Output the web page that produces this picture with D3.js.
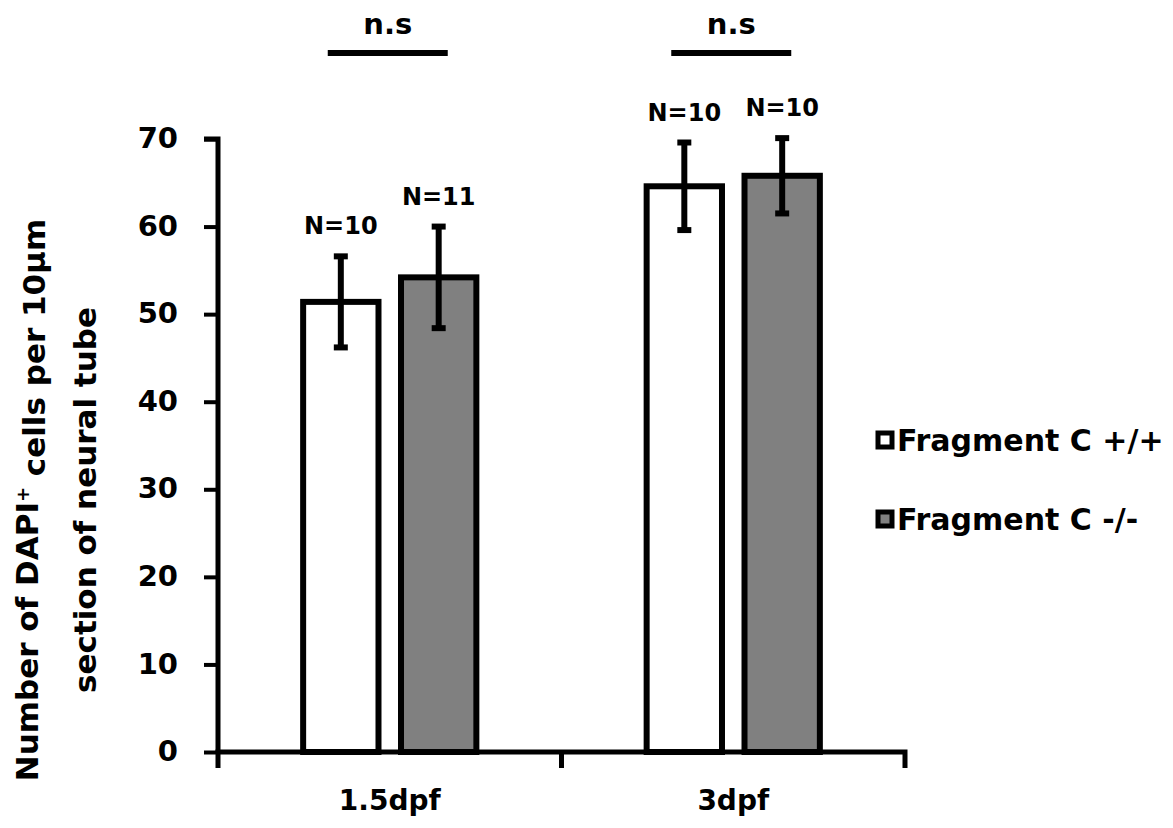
<!DOCTYPE html>
<html>
<head>
<meta charset="utf-8">
<script src="https://cdn.jsdelivr.net/npm/d3@7"></script>
<style>
  body { margin: 0; background: #fff; }
  text { font-family: "DejaVu Sans", sans-serif; font-weight: bold; fill: #000; }
</style>
</head>
<body>
<div id="chart"></div>
<script>
// data
const stages = ["1.5dpf", "3dpf"];
const genotypes = ["Fragment C +/+", "Fragment C -/-"];
const means = [[51.4, 54.2], [64.6, 65.8]];
const errors = [[5.2, 5.8], [5.0, 4.3]];
const nLabels = [["N=10", "N=11"], ["N=10", "N=10"]];
const sigLabels = ["n.s", "n.s"];
const yTicks = [0, 10, 20, 30, 40, 50, 60, 70];
const fills = ["#ffffff", "#808080"];

const width = 1173, height = 828;

const svg = d3.select("#chart").append("svg")
    .attr("width", width)
    .attr("height", height);

// scales
let x0 = d3.scaleBand()
    .domain(stages)
    .range([218, 905]);

let x1 = d3.scaleBand()
    .domain(genotypes)
    .range([0, x0.bandwidth()])
    .paddingInner(0.23)
    .paddingOuter(0.87);

let y = d3.scaleLinear()
    .domain([0, 70])
    .range([752, 139]);

// bars
let groups = svg.selectAll(".stage")
    .data(stages)
    .enter()
    .append("g")
    .attr("class", "stage")
    .attr("transform", d => `translate(${x0(d)},0)`);

groups.each(function(stage, i) {
    let g = d3.select(this);
    genotypes.forEach((gt, j) => {
        let m = means[i][j], e = errors[i][j];
        let cx = x1(gt) + x1.bandwidth() / 2;
        g.append("rect")
            .attr("x", x1(gt))
            .attr("y", y(m))
            .attr("width", x1.bandwidth())
            .attr("height", y(0) - y(m))
            .attr("fill", fills[j])
            .attr("stroke", "#000")
            .attr("stroke-width", 6);
        // error bar
        g.append("line")
            .attr("x1", cx).attr("x2", cx)
            .attr("y1", y(m + e)).attr("y2", y(m - e))
            .attr("stroke", "#000").attr("stroke-width", 6);
        [m + e, m - e].forEach(v => {
            g.append("line")
                .attr("x1", cx - 7).attr("x2", cx + 7)
                .attr("y1", y(v)).attr("y2", y(v))
                .attr("stroke", "#000").attr("stroke-width", 6);
        });
        g.append("text")
            .attr("x", cx)
            .attr("y", y(m + e) - 22)
            .attr("text-anchor", "middle")
            .style("font-size", "24px")
            .text(nLabels[i][j]);
    });

    // n.s bracket
    let mid = x0.bandwidth() / 2 - 2;
    g.append("line")
        .attr("x1", mid - 60).attr("x2", mid + 60)
        .attr("y1", 53).attr("y2", 53)
        .attr("stroke", "#000").attr("stroke-width", 6);
    g.append("text")
        .attr("x", mid)
        .attr("y", 34)
        .attr("text-anchor", "middle")
        .style("font-size", "29px")
        .text(sigLabels[i]);
});

// y axis
let yAxis = svg.append("g")
    .attr("transform", "translate(218,0)")
    .call(d3.axisLeft(y).tickValues(yTicks).tickSize(14).tickPadding(26));
yAxis.select(".domain").attr("stroke-width", 5).attr("d", `M-14,${y(70)}H0V${y(0)}`);
yAxis.selectAll(".tick line").attr("stroke-width", 4);
yAxis.selectAll(".tick text").style("font-size", "29px").attr("dy", "0.3em");

// x axis
let xAxis = svg.append("g")
    .attr("transform", `translate(0,${y(0)})`)
    .call(d3.axisBottom(x0).tickSize(0).tickPadding(38));
xAxis.select(".domain").attr("stroke-width", 5)
    .attr("d", `M218,16V0H905V16`);
xAxis.append("line")
    .attr("x1", x0("3dpf")).attr("x2", x0("3dpf"))
    .attr("y1", 0).attr("y2", 16)
    .attr("stroke", "#000").attr("stroke-width", 5);
xAxis.selectAll(".tick text").style("font-size", "28px").attr("dy", "0.71em");

// y axis title
let yTitle = svg.append("text")
    .attr("transform", "translate(38,500) rotate(-90)")
    .attr("text-anchor", "middle")
    .style("font-size", "31px");
yTitle.append("tspan").attr("x", 0).attr("dy", 0).text("Number of DAPI");
yTitle.append("tspan").attr("dy", "-0.5em").style("font-size", "18px").text("+");
yTitle.append("tspan").attr("dy", "0.5em").text(" cells per 10µm");
yTitle.append("tspan").attr("x", 0).attr("dy", "51px").text("section of neural tube");

// legend
let legend = svg.selectAll(".legend")
    .data(genotypes)
    .enter()
    .append("g")
    .attr("class", "legend")
    .attr("transform", (d, i) => `translate(876,${431 + i * 79})`);
legend.append("rect")
    .attr("width", 14).attr("height", 14)
    .attr("x", 2).attr("y", 2)
    .attr("fill", (d, i) => fills[i])
    .attr("stroke", "#000").attr("stroke-width", 5);
legend.append("text")
    .attr("x", 21).attr("y", 20)
    .style("font-size", "30px")
    .text(d => d);
</script>
</body>
</html>
